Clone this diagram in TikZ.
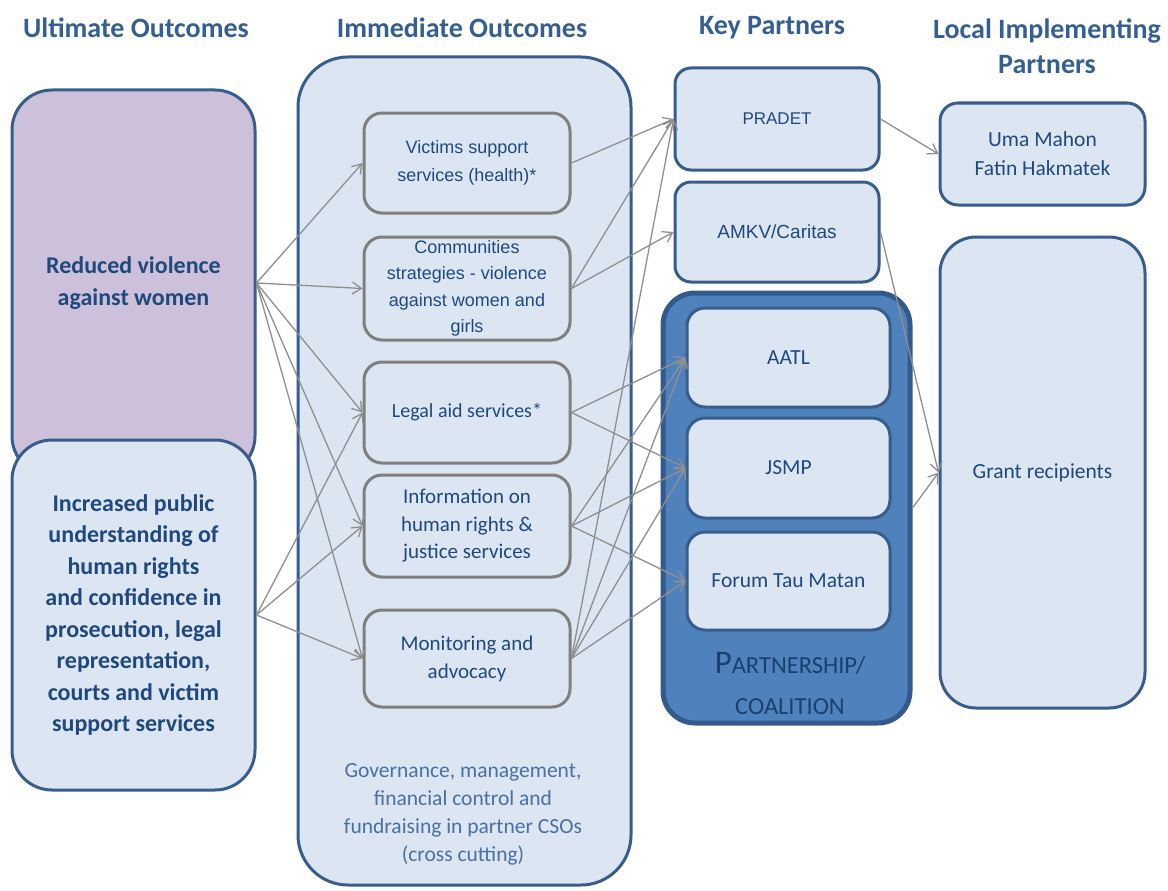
\documentclass[tikz,border=0pt]{standalone}
\usepackage{fontspec}
\setmainfont{Carlito}
\newfontfamily\arialfont{Liberation Sans}
\usetikzlibrary{arrows.meta}

\definecolor{lightfill}{HTML}{DCE6F2}
\definecolor{edgeblue}{HTML}{385D8A}
\definecolor{lilac}{HTML}{CCC0DA}
\definecolor{midblue}{HTML}{4F81BD}
\definecolor{coaledge}{HTML}{335A8A}
\definecolor{boxgray}{HTML}{7F7F7F}
\definecolor{linkgray}{HTML}{8F8F8F}
\definecolor{headblue}{HTML}{365F91}
\definecolor{textblue}{HTML}{1F497D}
\definecolor{softblue}{HTML}{4A6FA0}
\definecolor{deepblue}{HTML}{1B3F6E}

\tikzset{
  outcome/.style={draw=edgeblue, line width=3pt, fill=lightfill, rounded corners=40pt,
    inner sep=0pt, align=center, text=textblue,
    font=\fontsize{24}{31.5}\selectfont\bfseries},
  activity/.style={draw=boxgray, line width=3pt, fill=lightfill, rounded corners=18pt,
    minimum width=206pt, inner sep=0pt, align=center, text=textblue},
  partner/.style={draw=edgeblue, line width=3pt, fill=lightfill, rounded corners=16pt,
    inner sep=0pt, align=center, text=textblue,
    font=\fontsize{21.5}{29}\selectfont},
  header/.style={text=headblue, align=center, font=\fontsize{28}{35}\selectfont\bfseries},
  link/.style={draw=linkgray, line width=1.3pt,
    -{Straight Barb[length=9pt,width=12pt]}},
}

\begin{document}
\begin{tikzpicture}[x=1pt,y=-1pt]
\useasboundingbox[fill=white] (0,0) rectangle (1168,891);

% column headings
\node[header] (h1) at (136,28) {Ultimate Outcomes};
\node[header] (h2) at (462,28) {Immediate Outcomes};
\node[header] (h3) at (772,28) {Key Partners};
\node[header] (h4) at (1047,46) {Local Implementing\\Partners};

% ultimate outcomes
\node[outcome, fill=lilac, minimum width=243pt, minimum height=386pt] (reduced) at (133.5,283)
  {Reduced violence\\against women};
\node[outcome, minimum width=243pt, minimum height=350pt] (public) at (133.5,615)
  {Increased public\\understanding of\\human rights\\and confidence in\\prosecution, legal\\representation,\\courts and victim\\support services};

% immediate outcomes container
\node[outcome, rounded corners=50pt, minimum width=333pt, minimum height=828pt] (immediate) at (464.5,471) {};
\node[text=softblue, align=center, font=\fontsize{21.5}{28}\selectfont] (governance) at (463,814)
  {Governance, management,\\financial control and\\fundraising in partner CSOs\\(cross cutting)};

\node[activity, minimum height=100pt, font=\arialfont\fontsize{18}{28}\selectfont] (victims) at (467,163)
  {Victims support\\services (health)*};
\node[activity, minimum height=103pt, font=\arialfont\fontsize{18}{26.5}\selectfont] (communities) at (467,288.5)
  {Communities\\strategies - violence\\against women and\\girls};
\node[activity, minimum height=101pt, font=\fontsize{20}{27}\selectfont] (legal) at (467,412.5)
  {Legal aid services*};
\node[activity, minimum height=102pt, font=\fontsize{21}{27.5}\selectfont] (information) at (467,526)
  {Information on\\human rights \&\\justice services};
\node[activity, minimum height=97pt, font=\fontsize{21}{28}\selectfont] (monitoring) at (467,658.5)
  {Monitoring and\\advocacy};

% key partners
\node[partner, minimum width=204pt, minimum height=102pt, font=\arialfont\fontsize{17}{24}\selectfont] (pradet) at (777,119) {PRADET};
\node[partner, minimum width=204pt, minimum height=100pt, font=\arialfont\fontsize{19}{24}\selectfont] (amkv) at (777,232) {AMKV/Caritas};

\node[draw=coaledge, line width=5pt, fill=midblue, rounded corners=32pt,
  minimum width=247pt, minimum height=430pt] (coalition) at (786.5,508) {};
\node[partner, rounded corners=18pt, minimum width=203pt, minimum height=99pt] (aatl) at (788.5,357.5) {AATL};
\node[partner, rounded corners=18pt, minimum width=203pt, minimum height=100pt] (jsmp) at (788.5,468) {JSMP};
\node[partner, rounded corners=18pt, minimum width=203pt, minimum height=98pt] (forum) at (788.5,581) {Forum Tau Matan};
\node[text=deepblue, align=center, font=\fontsize{24.5}{41}\selectfont] (coaltext) at (790,683)
  {{\fontsize{33}{41}\selectfont P}ARTNERSHIP/\\COALITION};

% local implementing partners
\node[partner, rounded corners=18pt, minimum width=205pt, minimum height=102pt] (uma) at (1042.5,154)
  {Uma Mahon\\Fatin Hakmatek};
\node[partner, rounded corners=36pt, minimum width=205pt, minimum height=471pt] (grant) at (1042.5,472.5)
  {Grant recipients};

% links: ultimate to immediate outcomes
\draw[link] (reduced.east) -- (victims.west);
\draw[link] (reduced.east) -- (communities.west);
\draw[link] (reduced.east) -- (legal.west);
\draw[link] (reduced.east) -- (information.west);
\draw[link] (reduced.east) -- (monitoring.west);
\draw[link] (public.east) -- (legal.west);
\draw[link] (public.east) -- (information.west);
\draw[link] (public.east) -- (monitoring.west);

% links: immediate outcomes to key partners
\draw[link] (victims.east) -- (pradet.west);
\draw[link] (communities.east) -- (pradet.west);
\draw[link] (communities.east) -- (amkv.west);
\draw[link] (legal.east) -- (aatl.west);
\draw[link] (legal.east) -- (jsmp.west);
\draw[link] (information.east) -- (aatl.west);
\draw[link] (information.east) -- (jsmp.west);
\draw[link] (information.east) -- (forum.west);
\draw[link] (monitoring.east) -- (pradet.west);
\draw[link] (monitoring.east) -- (aatl.west);
\draw[link] (monitoring.east) -- (jsmp.west);
\draw[link] (monitoring.east) -- (forum.west);

% links: key partners to local implementing partners
\draw[link] (pradet.east) -- (uma.west);
\draw[link] (amkv.east) -- (grant.west);
\draw[link] (coalition.east) -- (grant.west);
\end{tikzpicture}
\end{document}
